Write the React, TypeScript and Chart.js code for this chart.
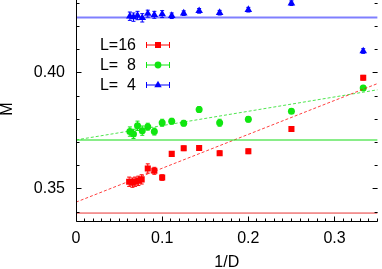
import React, { useEffect, useRef } from 'react';
import { Chart, registerables } from 'chart.js';

Chart.register(...registerables);

// ---------- data ----------
const X_RED = [0.0617, 0.0655, 0.0686, 0.0724, 0.0762, 0.0833, 0.0909, 0.1, 0.1111, 0.125, 0.1429, 0.1667, 0.2, 0.25, 0.3333];
const Y_RED = [0.3531, 0.3527, 0.3531, 0.3535, 0.3541, 0.3588, 0.3578, 0.3549, 0.3651, 0.3675, 0.3676, 0.3654, 0.3662, 0.3758, 0.3979];
const E_RED = [0.002, 0.002, 0.002, 0.002, 0.002, 0.002, 0.0015, 0.0012, 0.001, 0.001, 0.001, 0.001, 0.001, 0.001, 0.001];

const X_GREEN = [0.0625, 0.0667, 0.0714, 0.0769, 0.0833, 0.0909, 0.1, 0.1111, 0.125, 0.1429, 0.1667, 0.2, 0.25, 0.3333];
const Y_GREEN = [0.3747, 0.3737, 0.3772, 0.3751, 0.3768, 0.3747, 0.3785, 0.3792, 0.3783, 0.3842, 0.3785, 0.38, 0.3835, 0.3935];
const E_GREEN = [0.002, 0.002, 0.002, 0.002, 0.0015, 0.0015, 0.0015, 0.0012, 0.0012, 0.0012, 0.0015, 0.0012, 0.001, 0.001];

const X_BLUE = [0.0625, 0.0667, 0.0714, 0.0769, 0.0833, 0.0909, 0.1, 0.1111, 0.125, 0.1429, 0.1667, 0.2, 0.25, 0.3333];
const Y_BLUE = [0.4244, 0.424, 0.4247, 0.4237, 0.4255, 0.425, 0.4253, 0.4246, 0.4257, 0.4267, 0.4259, 0.4272, 0.43, 0.4094];
const E_BLUE = [0.0018, 0.0018, 0.0018, 0.0018, 0.0015, 0.0015, 0.0015, 0.0012, 0.001, 0.001, 0.001, 0.001, 0.001, 0.001];

// horizontal reference levels
const RED_LEVEL = 0.3396;
const GREEN_LEVEL = 0.3711;
const BLUE_LEVEL = 0.4238;

// linear fits: value at x = 0 and at x = 0.35
const FIT_X = [0, 0.35];
const RED_FIT = [0.3443, 0.3954];
const GREEN_FIT = [0.3711, 0.3927];

const LEGEND_LABELS = ['L=16', 'L=  8', 'L=  4'];

// axes
const X_MIN = 0;
const X_MAX = 0.35;
const Y_MIN = 0.33618;
const Y_MAX = 0.4325;
const X_TICKS = [0, 0.01, 0.02, 0.03, 0.04, 0.05, 0.06, 0.07, 0.08, 0.09, 0.1, 0.11, 0.12, 0.13, 0.14, 0.15, 0.16, 0.17, 0.18, 0.19, 0.2, 0.21, 0.22, 0.23, 0.24, 0.25, 0.26, 0.27, 0.28, 0.29, 0.3, 0.31, 0.32, 0.33, 0.34, 0.35];
const X_MAJOR = [0, 0.1, 0.2, 0.3];
const X_MAJOR_LABELS = ['0', '0.1', '0.2', '0.3'];
const Y_TICKS = [0.34, 0.35, 0.36, 0.37, 0.38, 0.39, 0.4, 0.41, 0.42, 0.43];
const Y_MAJOR = [0.35, 0.4];
const Y_MAJOR_LABELS = ['0.35', '0.40'];

// ---------- style ----------
const FONT = 'Liberation Sans';
const RED = '#ff0000';
const GREEN = '#10e610';
const BLUE = '#0000ff';
const SHIFT = 7; // canvas is taller than the page and lifted by this many px (plot top is cropped)

const pts = (xs: number[], ys: number[]) => xs.map((x, i) => ({ x, y: ys[i] }));
const findMajor = (v: number, majors: number[]) => majors.findIndex((m) => Math.abs(m - v) < 1e-9);

function drawMarker(ctx: CanvasRenderingContext2D, style: string, x: number, y: number, color: string) {
  ctx.save();
  ctx.fillStyle = color;
  ctx.beginPath();
  if (style === 'rect') {
    ctx.rect(x - 3, y - 3, 6, 6);
  } else if (style === 'circle') {
    ctx.arc(x, y, 3.4, 0, Math.PI * 2);
  } else {
    const r = 4.3;
    ctx.moveTo(x, y - r);
    ctx.lineTo(x + r * Math.sin(Math.PI / 3), y + r * 0.5);
    ctx.lineTo(x - r * Math.sin(Math.PI / 3), y + r * 0.5);
    ctx.closePath();
  }
  ctx.fill();
  ctx.restore();
}

const overlay = {
  id: 'overlay',
  beforeDatasetsDraw(chart: any) {
    const { ctx, chartArea } = chart;
    const xs = chart.scales.x;
    const ys = chart.scales.y;
    const groups = [
      { x: X_RED, y: Y_RED, e: E_RED, c: RED },
      { x: X_GREEN, y: Y_GREEN, e: E_GREEN, c: GREEN },
      { x: X_BLUE, y: Y_BLUE, e: E_BLUE, c: BLUE },
    ];
    ctx.save();
    ctx.beginPath();
    ctx.rect(chartArea.left, chartArea.top, chartArea.right - chartArea.left, chartArea.bottom - chartArea.top);
    ctx.clip();
    ctx.lineWidth = 1;
    for (const g of groups) {
      ctx.strokeStyle = g.c;
      ctx.beginPath();
      g.x.forEach((xv, i) => {
        const px = xs.getPixelForValue(xv);
        const p1 = ys.getPixelForValue(g.y[i] - g.e[i]);
        const p2 = ys.getPixelForValue(g.y[i] + g.e[i]);
        ctx.moveTo(px, p1);
        ctx.lineTo(px, p2);
        ctx.moveTo(px - 2, p1);
        ctx.lineTo(px + 2, p1);
        ctx.moveTo(px - 2, p2);
        ctx.lineTo(px + 2, p2);
      });
      ctx.stroke();
    }
    ctx.restore();
  },
  afterDraw(chart: any) {
    const { ctx, chartArea } = chart;
    const xs = chart.scales.x;
    const ys = chart.scales.y;
    const L = Math.floor(chartArea.left) + 0.5;
    const B = Math.floor(chartArea.bottom) + 0.5;
    const R = chartArea.right;
    ctx.save();
    ctx.strokeStyle = '#000';
    ctx.lineWidth = 1;
    ctx.beginPath();
    ctx.moveTo(L, chartArea.top);
    ctx.lineTo(L, B);
    ctx.lineTo(R, B);
    X_TICKS.forEach((v) => {
      const px = Math.floor(xs.getPixelForValue(v)) + 0.5;
      const len = findMajor(v, X_MAJOR) >= 0 ? 5 : 3;
      ctx.moveTo(px, B);
      ctx.lineTo(px, B - len);
    });
    Y_TICKS.forEach((v) => {
      const py = Math.floor(ys.getPixelForValue(v)) + 0.5;
      const len = findMajor(v, Y_MAJOR) >= 0 ? 5 : 3;
      ctx.moveTo(L, py);
      ctx.lineTo(L + len, py);
      ctx.moveTo(R, py);
      ctx.lineTo(R - len, py);
    });
    ctx.stroke();

    // legend
    const rows = [
      { c: RED, m: 'rect' },
      { c: GREEN, m: 'circle' },
      { c: BLUE, m: 'triangle' },
    ];
    ctx.font = `16px "${FONT}"`;
    ctx.textAlign = 'right';
    ctx.textBaseline = 'middle';
    rows.forEach((r, i) => {
      const y = 45 + SHIFT + i * 20;
      ctx.fillStyle = '#000';
      ctx.fillText(LEGEND_LABELS[i], 136, y + 1);
      ctx.strokeStyle = r.c;
      ctx.beginPath();
      ctx.moveTo(146, y);
      ctx.lineTo(170, y);
      ctx.moveTo(146.5, y - 3);
      ctx.lineTo(146.5, y + 3);
      ctx.moveTo(169.5, y - 3);
      ctx.lineTo(169.5, y + 3);
      ctx.stroke();
      drawMarker(ctx, r.m, 158, y, r.c);
    });
    ctx.restore();
  },
};

export default function App() {
  const ref = useRef<HTMLCanvasElement>(null);
  useEffect(() => {
    document.body.style.margin = '0';
    const font = { family: FONT, size: 16 };
    const lineDs = (data: any[], color: string, width: number, dash: number[] = []) => ({
      type: 'line' as const,
      data,
      borderColor: color,
      borderWidth: width,
      borderDash: dash,
      pointRadius: 0,
      fill: false,
      tension: 0,
    });
    const chart = new Chart(ref.current!, {
      type: 'scatter',
      data: {
        datasets: [
          lineDs(pts(FIT_X, [RED_LEVEL, RED_LEVEL]), 'rgba(230,30,30,0.9)', 1),
          lineDs(pts(FIT_X, [GREEN_LEVEL, GREEN_LEVEL]), 'rgba(20,220,20,0.5)', 2),
          lineDs(pts(FIT_X, [BLUE_LEVEL, BLUE_LEVEL]), 'rgba(0,0,255,0.5)', 2),
          lineDs(pts(FIT_X, RED_FIT), 'rgba(255,0,0,0.75)', 1, [3, 2]),
          lineDs(pts(FIT_X, GREEN_FIT), 'rgba(20,220,20,0.75)', 1, [3, 2]),
          {
            label: LEGEND_LABELS[0],
            data: pts(X_RED, Y_RED),
            pointStyle: 'rect',
            pointRadius: 4.3,
            backgroundColor: RED,
            borderWidth: 0,
            showLine: false,
          },
          {
            label: LEGEND_LABELS[1],
            data: pts(X_GREEN, Y_GREEN),
            pointStyle: 'circle',
            pointRadius: 3.5,
            backgroundColor: GREEN,
            borderWidth: 0,
            showLine: false,
          },
          {
            label: LEGEND_LABELS[2],
            data: pts(X_BLUE, Y_BLUE),
            pointStyle: 'triangle',
            pointRadius: 4.4,
            backgroundColor: BLUE,
            borderWidth: 0,
            showLine: false,
          },
        ] as any,
      },
      options: {
        animation: false,
        responsive: false,
        devicePixelRatio: 1,
        layout: { padding: 0 },
        plugins: { legend: { display: false }, tooltip: { enabled: false } },
        scales: {
          x: {
            type: 'linear',
            position: 'bottom',
            min: X_MIN,
            max: X_MAX,
            afterBuildTicks: (s: any) => {
              s.ticks = X_TICKS.map((v) => ({ value: v }));
            },
            afterFit: (s: any) => {
              s.height = 48;
              s.paddingLeft = 0;
              s.paddingRight = 0;
            },
            grid: { display: false, drawTicks: false },
            border: { display: false },
            ticks: {
              autoSkip: false,
              minRotation: 0,
              maxRotation: 0,
              padding: 8,
              color: '#000',
              font,
              callback: (v: any) => {
                const i = findMajor(Number(v), X_MAJOR);
                return i >= 0 ? X_MAJOR_LABELS[i] : '';
              },
            },
            title: { display: true, text: '1/D', color: '#000', font, padding: { top: 0, bottom: -3 } },
          },
          y: {
            type: 'linear',
            position: 'left',
            min: Y_MIN,
            max: Y_MAX,
            afterBuildTicks: (s: any) => {
              s.ticks = Y_TICKS.map((v) => ({ value: v }));
            },
            afterFit: (s: any) => {
              s.width = 76;
              s.paddingTop = 0;
              s.paddingBottom = 0;
            },
            grid: { display: false, drawTicks: false },
            border: { display: false },
            ticks: {
              autoSkip: false,
              padding: 11,
              color: '#000',
              font,
              callback: (v: any) => {
                const i = findMajor(Number(v), Y_MAJOR);
                return i >= 0 ? Y_MAJOR_LABELS[i] : '';
              },
            },
            title: { display: true, text: 'M', color: '#000', font, padding: { top: -2.4, bottom: 0 } },
          },
        },
      },
      plugins: [overlay],
    } as any);
    return () => chart.destroy();
  }, []);
  return (
    <div style={{ width: 382, height: 269, overflow: 'hidden' }}>
      <canvas ref={ref} width={382} height={269 + SHIFT} style={{ display: 'block', marginTop: -SHIFT }} />
    </div>
  );
}
